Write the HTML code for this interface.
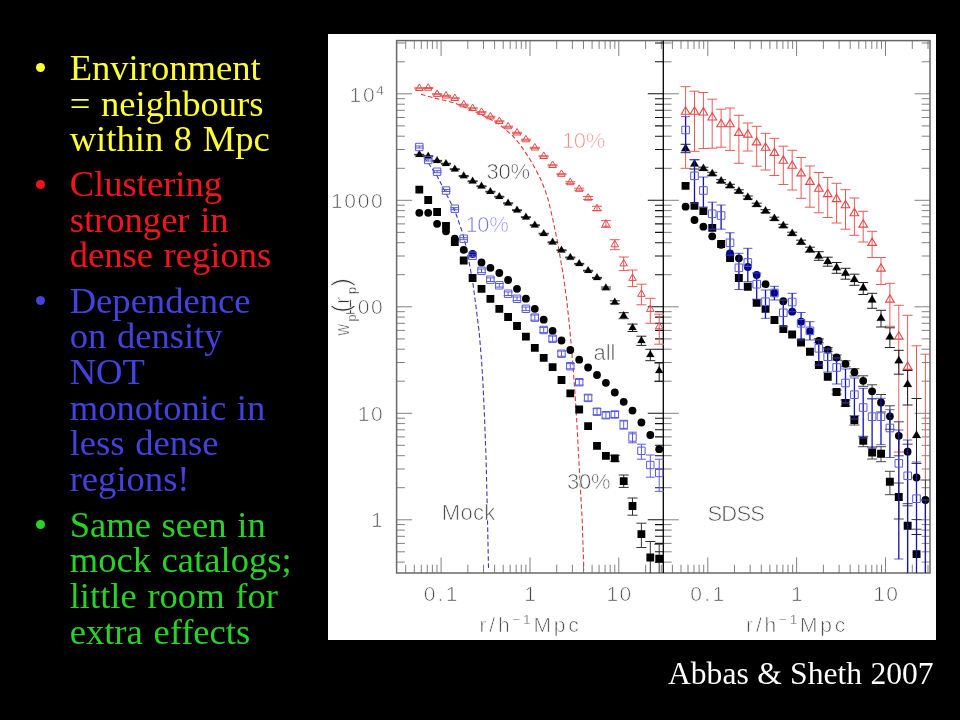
<!DOCTYPE html>
<html lang="en">
<head>
<meta charset="utf-8">
<title>Environment and clustering</title>
<style>
html,body{margin:0;padding:0;background:#000;}
body{width:960px;height:720px;position:relative;overflow:hidden;font-family:"Liberation Serif",serif;}
.ln{position:absolute;left:69.7px;word-spacing:1.5px;font-size:36.6px;line-height:1.15;white-space:nowrap;}
.bu{position:absolute;left:35.65px;width:9.5px;height:9.5px;border-radius:50%;}
#plotbg{position:absolute;left:328px;top:34px;width:608px;height:606px;background:#fff;}
svg{position:absolute;left:0;top:0;}
svg text{font-family:"Liberation Sans",sans-serif;stroke:#fff;stroke-width:0.7px;}
svg tspan.sup,svg text.sup{stroke-width:0.35px;}
#cite{position:absolute;left:668px;top:655.5px;word-spacing:0.5px;font-size:31.6px;line-height:1.15;color:#fff;white-space:nowrap;}
</style>
</head>
<body>
<div class="bu" style="top:62.8px;background:#ffff33"></div>
<div class="bu" style="top:179.6px;background:#f5141e"></div>
<div class="bu" style="top:295.9px;background:#4442dc"></div>
<div class="bu" style="top:519.6px;background:#28d228"></div>
<div class="ln" style="top:47.10px;color:#ffff33">Environment</div>
<div class="ln" style="top:82.70px;color:#ffff33">= neighbours</div>
<div class="ln" style="top:118.30px;color:#ffff33">within 8 Mpc</div>
<div class="ln" style="top:163.20px;color:#f5141e">Clustering</div>
<div class="ln" style="top:198.80px;color:#f5141e">stronger in</div>
<div class="ln" style="top:234.40px;color:#f5141e">dense regions</div>
<div class="ln" style="top:279.80px;color:#4442dc">Dependence</div>
<div class="ln" style="top:315.40px;color:#4442dc">on density</div>
<div class="ln" style="top:351.00px;color:#4442dc">NOT</div>
<div class="ln" style="top:386.60px;color:#4442dc">monotonic in</div>
<div class="ln" style="top:422.20px;color:#4442dc">less dense</div>
<div class="ln" style="top:457.80px;color:#4442dc">regions!</div>
<div class="ln" style="top:503.70px;color:#28d228">Same seen in</div>
<div class="ln" style="top:539.30px;color:#28d228">mock catalogs;</div>
<div class="ln" style="top:574.90px;color:#28d228">little room for</div>
<div class="ln" style="top:610.50px;color:#28d228">extra effects</div>
<div id="plotbg"></div>
<svg width="960" height="720" viewBox="0 0 960 720">
<path d="M405.7 40.6v8.3M405.7 573v-8.3M414.3 40.6v8.3M414.3 573v-8.3M421.3 40.6v8.3M421.3 573v-8.3M427.3 40.6v8.3M427.3 573v-8.3M432.4 40.6v8.3M432.4 573v-8.3M437 40.6v8.3M437 573v-8.3M441.1 40.6v15.5M441.1 573v-15.5M467.8 40.6v8.3M467.8 573v-8.3M483.5 40.6v8.3M483.5 573v-8.3M494.6 40.6v8.3M494.6 573v-8.3M503.2 40.6v8.3M503.2 573v-8.3M510.2 40.6v8.3M510.2 573v-8.3M516.2 40.6v8.3M516.2 573v-8.3M521.3 40.6v8.3M521.3 573v-8.3M525.9 40.6v8.3M525.9 573v-8.3M530 40.6v15.5M530 573v-15.5M556.7 40.6v8.3M556.7 573v-8.3M572.4 40.6v8.3M572.4 573v-8.3M583.5 40.6v8.3M583.5 573v-8.3M592.1 40.6v8.3M592.1 573v-8.3M599.1 40.6v8.3M599.1 573v-8.3M605.1 40.6v8.3M605.1 573v-8.3M610.2 40.6v8.3M610.2 573v-8.3M614.8 40.6v8.3M614.8 573v-8.3M618.8 40.6v15.5M618.8 573v-15.5M645.6 40.6v8.3M645.6 573v-8.3M661.3 40.6v8.3M661.3 573v-8.3M396.6 562.1h8.3M396.6 551.8h8.3M396.6 543.4h8.3M396.6 536.3h8.3M396.6 530.1h8.3M396.6 524.6h8.3M396.6 519.8h15.5M396.6 487.7h8.3M396.6 469h8.3M396.6 455.7h8.3M396.6 445.3h8.3M396.6 436.9h8.3M396.6 429.8h8.3M396.6 423.6h8.3M396.6 418.2h8.3M396.6 413.3h15.5M396.6 381.2h8.3M396.6 362.5h8.3M396.6 349.2h8.3M396.6 338.9h8.3M396.6 330.4h8.3M396.6 323.3h8.3M396.6 317.1h8.3M396.6 311.7h8.3M396.6 306.8h15.5M396.6 274.7h8.3M396.6 256h8.3M396.6 242.7h8.3M396.6 232.4h8.3M396.6 223.9h8.3M396.6 216.8h8.3M396.6 210.6h8.3M396.6 205.2h8.3M396.6 200.3h15.5M396.6 168.3h8.3M396.6 149.5h8.3M396.6 136.2h8.3M396.6 125.9h8.3M396.6 117.5h8.3M396.6 110.3h8.3M396.6 104.2h8.3M396.6 98.7h8.3M396.6 93.8h15.5M396.6 61.8h8.3M396.6 43h8.3M672.4 40.6v8.3M672.4 573v-8.3M681 40.6v8.3M681 573v-8.3M688 40.6v8.3M688 573v-8.3M694 40.6v8.3M694 573v-8.3M699.1 40.6v8.3M699.1 573v-8.3M703.7 40.6v8.3M703.7 573v-8.3M707.8 40.6v15.5M707.8 573v-15.5M734.5 40.6v8.3M734.5 573v-8.3M750.2 40.6v8.3M750.2 573v-8.3M761.3 40.6v8.3M761.3 573v-8.3M769.9 40.6v8.3M769.9 573v-8.3M776.9 40.6v8.3M776.9 573v-8.3M782.9 40.6v8.3M782.9 573v-8.3M788 40.6v8.3M788 573v-8.3M792.6 40.6v8.3M792.6 573v-8.3M796.6 40.6v15.5M796.6 573v-15.5M823.4 40.6v8.3M823.4 573v-8.3M839.1 40.6v8.3M839.1 573v-8.3M850.2 40.6v8.3M850.2 573v-8.3M858.8 40.6v8.3M858.8 573v-8.3M865.8 40.6v8.3M865.8 573v-8.3M871.8 40.6v8.3M871.8 573v-8.3M876.9 40.6v8.3M876.9 573v-8.3M881.5 40.6v8.3M881.5 573v-8.3M885.5 40.6v15.5M885.5 573v-15.5M912.3 40.6v8.3M912.3 573v-8.3M928 40.6v8.3M928 573v-8.3M663.3 562.1h8.3M930 562.1h-8.3M663.3 551.8h8.3M930 551.8h-8.3M663.3 543.4h8.3M930 543.4h-8.3M663.3 536.3h8.3M930 536.3h-8.3M663.3 530.1h8.3M930 530.1h-8.3M663.3 524.6h8.3M930 524.6h-8.3M663.3 519.8h15.5M930 519.8h-15.5M663.3 487.7h8.3M930 487.7h-8.3M663.3 469h8.3M930 469h-8.3M663.3 455.7h8.3M930 455.7h-8.3M663.3 445.3h8.3M930 445.3h-8.3M663.3 436.9h8.3M930 436.9h-8.3M663.3 429.8h8.3M930 429.8h-8.3M663.3 423.6h8.3M930 423.6h-8.3M663.3 418.2h8.3M930 418.2h-8.3M663.3 413.3h15.5M930 413.3h-15.5M663.3 381.2h8.3M930 381.2h-8.3M663.3 362.5h8.3M930 362.5h-8.3M663.3 349.2h8.3M930 349.2h-8.3M663.3 338.9h8.3M930 338.9h-8.3M663.3 330.4h8.3M930 330.4h-8.3M663.3 323.3h8.3M930 323.3h-8.3M663.3 317.1h8.3M930 317.1h-8.3M663.3 311.7h8.3M930 311.7h-8.3M663.3 306.8h15.5M930 306.8h-15.5M663.3 274.7h8.3M930 274.7h-8.3M663.3 256h8.3M930 256h-8.3M663.3 242.7h8.3M930 242.7h-8.3M663.3 232.4h8.3M930 232.4h-8.3M663.3 223.9h8.3M930 223.9h-8.3M663.3 216.8h8.3M930 216.8h-8.3M663.3 210.6h8.3M930 210.6h-8.3M663.3 205.2h8.3M930 205.2h-8.3M663.3 200.3h15.5M930 200.3h-15.5M663.3 168.3h8.3M930 168.3h-8.3M663.3 149.5h8.3M930 149.5h-8.3M663.3 136.2h8.3M930 136.2h-8.3M663.3 125.9h8.3M930 125.9h-8.3M663.3 117.5h8.3M930 117.5h-8.3M663.3 110.3h8.3M930 110.3h-8.3M663.3 104.2h8.3M930 104.2h-8.3M663.3 98.7h8.3M930 98.7h-8.3M663.3 93.8h15.5M930 93.8h-15.5M663.3 61.8h8.3M930 61.8h-8.3M663.3 43h8.3M930 43h-8.3" stroke="#6a6a6a" stroke-width="0.85" fill="none"/>
<path d="M663.3 562.1h-8.3M663.3 551.8h-8.3M663.3 543.4h-8.3M663.3 536.3h-8.3M663.3 530.1h-8.3M663.3 524.6h-8.3M663.3 519.8h-15.5M663.3 487.7h-8.3M663.3 469h-8.3M663.3 455.7h-8.3M663.3 445.3h-8.3M663.3 436.9h-8.3M663.3 429.8h-8.3M663.3 423.6h-8.3M663.3 418.2h-8.3M663.3 413.3h-15.5M663.3 381.2h-8.3M663.3 362.5h-8.3M663.3 349.2h-8.3M663.3 338.9h-8.3M663.3 330.4h-8.3M663.3 323.3h-8.3M663.3 317.1h-8.3M663.3 311.7h-8.3M663.3 306.8h-15.5M663.3 274.7h-8.3M663.3 256h-8.3M663.3 242.7h-8.3M663.3 232.4h-8.3M663.3 223.9h-8.3M663.3 216.8h-8.3M663.3 210.6h-8.3M663.3 205.2h-8.3M663.3 200.3h-15.5M663.3 168.3h-8.3M663.3 149.5h-8.3M663.3 136.2h-8.3M663.3 125.9h-8.3M663.3 117.5h-8.3M663.3 110.3h-8.3M663.3 104.2h-8.3M663.3 98.7h-8.3M663.3 93.8h-15.5M663.3 61.8h-8.3M663.3 43h-8.3" stroke="#111" stroke-width="1.1" fill="none"/>
<rect x="396.6" y="40.6" width="533.4" height="532.4" fill="none" stroke="#686868" stroke-width="1.5"/>
<path d="M663.3 40.6V573" stroke="#000" stroke-width="1.3"/>
<path d="M421 94.3L436 98.4L446 100.8L454.5 103L463 106.4L472 110.3L481 114.5L490 119L498 123.6L505 129L512.7 135.8L520 144.5L529.3 158.3L536 170L541 180L545 190L548.3 200L553 220L557.5 241.7L561 262L563.3 275L566.7 300L569.5 326L571.7 350L575 393.3L576.7 420L579.2 466.7L582.2 520L583.8 570" stroke="#de3a3a" stroke-width="1.1" fill="none" stroke-dasharray="4.6 2.6"/>
<path d="M419.3 151.7L428 162.5L437 175.8L446 193.3L455.2 211.7L462.7 233.3L466.5 248L469.3 263.3L472.7 281.7L476 306.7L479.3 333.3L481.5 360L482.7 378.3L484.3 411.7L486 456.7L487.3 510L488.5 568.3" stroke="#3a3ab0" stroke-width="1.1" fill="none" stroke-dasharray="4.6 2.6"/>
<path d="M614.8 455.3V461.3M609.8 455.3h10M609.8 461.3h10M623.7 475V487.4M618.7 475h10M618.7 487.4h10M632.5 498V515.2M627.5 498h10M627.5 515.2h10M641.4 523.2V547.5M636.4 523.2h10M636.4 547.5h10M650.3 541.5V573M645.3 541.5h10M659.2 544.2V573M654.2 544.2h10" stroke="#333" stroke-width="1" fill="none"/>
<path d="M415.4 185.8h7.8v7.8h-7.8ZM424.3 196.1h7.8v7.8h-7.8ZM433.2 208.1h7.8v7.8h-7.8ZM442.1 221.9h7.8v7.8h-7.8ZM450.9 238.1h7.8v7.8h-7.8ZM459.8 256.6h7.8v7.8h-7.8ZM468.7 274.1h7.8v7.8h-7.8ZM477.6 284.9h7.8v7.8h-7.8ZM486.5 294.9h7.8v7.8h-7.8ZM495.4 304.9h7.8v7.8h-7.8ZM504.2 313.1h7.8v7.8h-7.8ZM513.1 322.1h7.8v7.8h-7.8ZM522 332.8h7.8v7.8h-7.8ZM530.9 344h7.8v7.8h-7.8ZM539.8 353.9h7.8v7.8h-7.8ZM548.7 363.2h7.8v7.8h-7.8ZM557.6 376.1h7.8v7.8h-7.8ZM566.4 389.4h7.8v7.8h-7.8ZM575.3 405.6h7.8v7.8h-7.8ZM584.2 422.3h7.8v7.8h-7.8ZM593.1 441.9h7.8v7.8h-7.8ZM602 451.9h7.8v7.8h-7.8ZM610.9 454.4h7.8v7.8h-7.8ZM619.8 477.3h7.8v7.8h-7.8ZM628.6 502.1h7.8v7.8h-7.8ZM637.5 530.3h7.8v7.8h-7.8ZM646.4 553.6h7.8v7.8h-7.8ZM655.3 554.8h7.8v7.8h-7.8Z" fill="#000" stroke="none" stroke-width="0"/>
<circle cx="419.3" cy="212.8" r="3.9" fill="#000"/>
<circle cx="428.2" cy="212.8" r="3.9" fill="#000"/>
<circle cx="437.1" cy="223.8" r="3.9" fill="#000"/>
<circle cx="446" cy="231.3" r="3.9" fill="#000"/>
<circle cx="454.8" cy="238.7" r="3.9" fill="#000"/>
<circle cx="463.7" cy="249.8" r="3.9" fill="#000"/>
<circle cx="472.6" cy="254" r="3.9" fill="#00007a"/>
<circle cx="481.5" cy="262.5" r="3.9" fill="#000"/>
<circle cx="490.4" cy="267.8" r="3.9" fill="#000"/>
<circle cx="499.3" cy="273" r="3.9" fill="#000"/>
<circle cx="508.1" cy="280" r="3.9" fill="#000"/>
<circle cx="517" cy="288.8" r="3.9" fill="#000"/>
<circle cx="525.9" cy="298.7" r="3.9" fill="#000"/>
<circle cx="534.8" cy="308.8" r="3.9" fill="#000"/>
<circle cx="543.7" cy="319.7" r="3.9" fill="#000"/>
<circle cx="552.6" cy="330.8" r="3.9" fill="#000"/>
<circle cx="561.5" cy="340.5" r="3.9" fill="#000"/>
<circle cx="570.3" cy="350" r="3.9" fill="#000"/>
<circle cx="579.2" cy="359.7" r="3.9" fill="#000"/>
<circle cx="588.1" cy="367.5" r="3.9" fill="#000"/>
<circle cx="597" cy="375" r="3.9" fill="#000"/>
<circle cx="605.9" cy="382.8" r="3.9" fill="#000"/>
<circle cx="614.8" cy="392.5" r="3.9" fill="#000"/>
<circle cx="623.7" cy="401.8" r="3.9" fill="#000"/>
<circle cx="632.5" cy="410.6" r="3.9" fill="#000"/>
<circle cx="641.4" cy="422.5" r="3.9" fill="#000"/>
<circle cx="650.3" cy="435" r="3.9" fill="#000"/>
<circle cx="659.2" cy="449.2" r="3.9" fill="#000"/>
<path d="M419.3 154.3V155.1M414.3 154.3h10M414.3 155.1h10M428.2 155.8V156.6M423.2 155.8h10M423.2 156.6h10M437.1 160.4V161.2M432.1 160.4h10M432.1 161.2h10M446 163.3V164.1M441 163.3h10M441 164.1h10M454.8 168.8V169.6M449.8 168.8h10M449.8 169.6h10M463.7 175.6V176.4M458.7 175.6h10M458.7 176.4h10M472.6 180.9V181.7M467.6 180.9h10M467.6 181.7h10M481.5 185.9V186.7M476.5 185.9h10M476.5 186.7h10M490.4 191.3V192.1M485.4 191.3h10M485.4 192.1h10M499.3 196.3V197.1M494.3 196.3h10M494.3 197.1h10M508.1 202.9V203.7M503.1 202.9h10M503.1 203.7h10M517 209.8V210.6M512 209.8h10M512 210.6h10M525.9 216.8V217.6M520.9 216.8h10M520.9 217.6h10M534.8 224.8V225.6M529.8 224.8h10M529.8 225.6h10M543.7 233.3V234.1M538.7 233.3h10M538.7 234.1h10M552.6 241.9V242.7M547.6 241.9h10M547.6 242.7h10M561.5 249.9V250.7M556.5 249.9h10M556.5 250.7h10M570.3 257.1V257.9M565.3 257.1h10M565.3 257.9h10M579.2 263.4V264.2M574.2 263.4h10M574.2 264.2h10M588.1 270.3V271.1M583.1 270.3h10M583.1 271.1h10M597 277.4V278.2M592 277.4h10M592 278.2h10M605.9 287V289M600.9 287h10M600.9 289h10M614.8 300.8V303.8M609.8 300.8h10M609.8 303.8h10M623.7 312.7V318.7M618.7 312.7h10M618.7 318.7h10M632.5 324.1V331.5M627.5 324.1h10M627.5 331.5h10M641.4 336.2V345.4M636.4 336.2h10M636.4 345.4h10M650.3 349.3V360.7M645.3 349.3h10M645.3 360.7h10M659.2 363V381.3M654.2 363h10M654.2 381.3h10" stroke="#222" stroke-width="1" fill="none"/>
<path d="M419.3 150.2L423.3 156.9L415.3 156.9ZM428.2 151.7L432.1 158.4L424.2 158.4ZM437.1 156.3L441 163.1L433.1 163.1ZM446 159.2L449.9 165.9L442 165.9ZM454.8 164.7L458.8 171.4L450.9 171.4ZM463.7 171.5L467.7 178.2L459.8 178.2ZM472.6 176.8L476.6 183.6L468.7 183.6ZM481.5 181.8L485.5 188.6L477.5 188.6ZM490.4 187.2L494.3 193.9L486.4 193.9ZM499.3 192.2L503.2 198.9L495.3 198.9ZM508.1 198.8L512.1 205.6L504.2 205.6ZM517 205.7L521 212.4L513.1 212.4ZM525.9 212.7L529.9 219.4L522 219.4ZM534.8 220.7L538.8 227.4L530.8 227.4ZM543.7 229.2L547.7 235.9L539.7 235.9ZM552.6 237.8L556.5 244.6L548.6 244.6ZM561.5 245.8L565.4 252.6L557.5 252.6ZM570.3 253L574.3 259.8L566.4 259.8ZM579.2 259.3L583.2 266.1L575.3 266.1ZM588.1 266.2L592.1 272.9L584.2 272.9ZM597 273.3L601 280.1L593 280.1ZM605.9 283.5L609.8 290.2L601.9 290.2ZM614.8 297.8L618.7 304.6L610.8 304.6ZM623.7 311.2L627.6 317.9L619.7 317.9ZM632.5 323.3L636.5 330.1L628.6 330.1ZM641.4 336.3L645.4 343.1L637.5 343.1ZM650.3 350.2L654.3 356.9L646.3 356.9ZM659.2 366.3L663.2 373.1L655.2 373.1Z" fill="#000" stroke="#000" stroke-width="0.2" stroke-linejoin="miter"/>
<path d="M419.3 146V148M414.9 146h8.8M414.9 148h8.8M428.2 159V161M423.8 159h8.8M423.8 161h8.8M437.1 170.7V172.7M432.7 170.7h8.8M432.7 172.7h8.8M446 189.5V191.5M441.6 189.5h8.8M441.6 191.5h8.8M454.8 207.7V209.7M450.4 207.7h8.8M450.4 209.7h8.8M463.7 237.7V239.7M459.3 237.7h8.8M459.3 239.7h8.8M472.6 254.8V256.8M468.2 254.8h8.8M468.2 256.8h8.8M481.5 269V272.6M477.1 269h8.8M477.1 272.6h8.8M490.4 277.9V281.5M486 277.9h8.8M486 281.5h8.8M499.3 283.5V287.1M494.9 283.5h8.8M494.9 287.1h8.8M508.1 291.9V295.5M503.8 291.9h8.8M503.8 295.5h8.8M517 297V300.6M512.6 297h8.8M512.6 300.6h8.8M525.9 307V310.6M521.5 307h8.8M521.5 310.6h8.8M534.8 315V320.2M530.4 315h8.8M530.4 320.2h8.8M543.7 327.4V332.6M539.3 327.4h8.8M539.3 332.6h8.8M552.6 336.1V341.3M548.2 336.1h8.8M548.2 341.3h8.8M561.5 351.1V356.3M557.1 351.1h8.8M557.1 356.3h8.8M570.3 363.6V368.8M565.9 363.6h8.8M565.9 368.8h8.8M579.2 379.4V385M574.8 379.4h8.8M574.8 385h8.8M588.1 394.9V400.9M583.7 394.9h8.8M583.7 400.9h8.8M597 408.7V414.7M592.6 408.7h8.8M592.6 414.7h8.8M605.9 412.2V418.2M601.5 412.2h8.8M601.5 418.2h8.8M614.8 411.5V417.5M610.4 411.5h8.8M610.4 417.5h8.8M623.7 420.3V429.1M619.3 420.3h8.8M619.3 429.1h8.8M632.5 432.2V442.8M628.1 432.2h8.8M628.1 442.8h8.8M641.4 444.2V459.2M637 444.2h8.8M637 459.2h8.8M650.3 455V477.2M645.9 455h8.8M645.9 477.2h8.8M659.2 459.2V491.3M654.8 459.2h8.8M654.8 491.3h8.8" stroke="#5a5ade" stroke-width="1" fill="none"/>
<path d="M415.6 143.3h7.4v7.4h-7.4ZM424.5 156.3h7.4v7.4h-7.4ZM433.4 168h7.4v7.4h-7.4ZM442.3 186.8h7.4v7.4h-7.4ZM451.1 205h7.4v7.4h-7.4ZM460 235h7.4v7.4h-7.4ZM468.9 252.1h7.4v7.4h-7.4ZM477.8 267.1h7.4v7.4h-7.4ZM486.7 276h7.4v7.4h-7.4ZM495.6 281.6h7.4v7.4h-7.4ZM504.4 290h7.4v7.4h-7.4ZM513.3 295.1h7.4v7.4h-7.4ZM522.2 305.1h7.4v7.4h-7.4ZM531.1 313.9h7.4v7.4h-7.4ZM540 326.3h7.4v7.4h-7.4ZM548.9 335h7.4v7.4h-7.4ZM557.8 350h7.4v7.4h-7.4ZM566.6 362.5h7.4v7.4h-7.4ZM575.5 378.5h7.4v7.4h-7.4ZM584.4 394.2h7.4v7.4h-7.4ZM593.3 408h7.4v7.4h-7.4ZM602.2 411.5h7.4v7.4h-7.4ZM611.1 410.8h7.4v7.4h-7.4ZM620 421h7.4v7.4h-7.4ZM628.8 433.8h7.4v7.4h-7.4ZM637.7 447.1h7.4v7.4h-7.4ZM646.6 461.3h7.4v7.4h-7.4ZM655.5 469.3h7.4v7.4h-7.4Z" fill="none" stroke="#5a5ade" stroke-width="1"/>
<path d="M419.3 87.8V88.8M414.3 87.8h10M414.3 88.8h10M428.2 87.5V88.5M423.2 87.5h10M423.2 88.5h10M437.1 93.7V94.7M432.1 93.7h10M432.1 94.7h10M446 95.3V96.3M441 95.3h10M441 96.3h10M454.8 97.8V98.8M449.8 97.8h10M449.8 98.8h10M463.7 104.2V105.2M458.7 104.2h10M458.7 105.2h10M472.6 107.8V108.8M467.6 107.8h10M467.6 108.8h10M481.5 111.7V112.7M476.5 111.7h10M476.5 112.7h10M490.4 116.2V117.2M485.4 116.2h10M485.4 117.2h10M499.3 120.8V121.8M494.3 120.8h10M494.3 121.8h10M508.1 126.2V127.2M503.1 126.2h10M503.1 127.2h10M517 132.3V133.3M512 132.3h10M512 133.3h10M525.9 139.2V140.2M520.9 139.2h10M520.9 140.2h10M534.8 147.3V148.3M529.8 147.3h10M529.8 148.3h10M543.7 155.8V156.8M538.7 155.8h10M538.7 156.8h10M552.6 164.8V165.8M547.6 164.8h10M547.6 165.8h10M561.5 173.7V174.7M556.5 173.7h10M556.5 174.7h10M570.3 181.7V183.3M565.3 181.7h10M565.3 183.3h10M579.2 188.2V190.2M574.2 188.2h10M574.2 190.2h10M588.1 196.5V199.5M583.1 196.5h10M583.1 199.5h10M597 206.3V210.7M592 206.3h10M592 210.7h10M605.9 220.6V227.4M600.9 220.6h10M600.9 227.4h10M614.8 239.7V249.7M609.8 239.7h10M609.8 249.7h10M623.7 257V270.6M618.7 257h10M618.7 270.6h10M632.5 270V286.6M627.5 270h10M627.5 286.6h10M641.4 284.2V304.8M636.4 284.2h10M636.4 304.8h10M650.3 298.3V323.3M645.3 298.3h10M645.3 323.3h10M659.2 314.2V344.2M654.2 314.2h10M654.2 344.2h10" stroke="#ea5a5a" stroke-width="1" fill="none"/>
<path d="M419.3 84L423.1 90.5L415.5 90.5ZM428.2 83.7L432 90.2L424.4 90.2ZM437.1 89.9L440.9 96.4L433.3 96.4ZM446 91.5L449.7 98L442.2 98ZM454.8 94L458.6 100.5L451.1 100.5ZM463.7 100.4L467.5 106.9L459.9 106.9ZM472.6 104L476.4 110.5L468.8 110.5ZM481.5 107.9L485.3 114.4L477.7 114.4ZM490.4 112.4L494.2 118.9L486.6 118.9ZM499.3 117L503 123.5L495.5 123.5ZM508.1 122.4L511.9 128.8L504.4 128.8ZM517 128.5L520.8 135L513.3 135ZM525.9 135.4L529.7 141.8L522.1 141.8ZM534.8 143.5L538.6 150L531 150ZM543.7 152L547.5 158.5L539.9 158.5ZM552.6 161L556.4 167.5L548.8 167.5ZM561.5 169.9L565.2 176.3L557.7 176.3ZM570.3 178.2L574.1 184.7L566.6 184.7ZM579.2 184.9L583 191.3L575.4 191.3ZM588.1 193.7L591.9 200.2L584.3 200.2ZM597 204.2L600.8 210.7L593.2 210.7ZM605.9 219.7L609.7 226.2L602.1 226.2ZM614.8 240.4L618.6 246.8L611 246.8ZM623.7 259.5L627.4 265.9L619.9 265.9ZM632.5 274L636.3 280.4L628.8 280.4ZM641.4 289.9L645.2 296.3L637.6 296.3ZM650.3 305L654.1 311.4L646.5 311.4ZM659.2 322.4L663 328.8L655.4 328.8Z" fill="none" stroke="#e64848" stroke-width="1" stroke-linejoin="miter"/>
<path d="M685.6 86.7V168.3M694.5 91.2V151.3M703.4 92.5V148.5M712.2 99.2V148.2M721.1 109.2V147.2M730 108V150.4M738.9 115.3V163.3M747.8 123V151M756.7 126.3V166.2M765.5 133.3V170M774.4 138.3V175.5M783.3 146.2V184.5M792.2 150.3V190M801.1 157.5V198.3M809.9 166V207.2M818.8 172.5V212.8M827.7 177.5V217.5M836.6 183.3V223M845.5 189.7V229.2M854.4 198V235.3M863.2 211.3V242M872.1 231.3V257.5M881 257.5V284.5M889.9 283.3V326.3M898.8 305.3V452M907.6 315.3V573M916.5 345.8V573M925.4 354.2V573M680.6 86.7h10M680.6 168.3h10M689.5 91.2h10M689.5 151.3h10M698.4 92.5h10M698.4 148.5h10M707.2 99.2h10M707.2 148.2h10M716.1 109.2h10M716.1 147.2h10M725 108h10M725 150.4h10M733.9 115.3h10M733.9 163.3h10M742.8 123h10M742.8 151h10M751.7 126.3h10M751.7 166.2h10M760.5 133.3h10M760.5 170h10M769.4 138.3h10M769.4 175.5h10M778.3 146.2h10M778.3 184.5h10M787.2 150.3h10M787.2 190h10M796.1 157.5h10M796.1 198.3h10M804.9 166h10M804.9 207.2h10M813.8 172.5h10M813.8 212.8h10M822.7 177.5h10M822.7 217.5h10M831.6 183.3h10M831.6 223h10M840.5 189.7h10M840.5 229.2h10M849.4 198h10M849.4 235.3h10M858.2 211.3h10M858.2 242h10M867.1 231.3h10M867.1 257.5h10M876 257.5h10M876 284.5h10M884.9 283.3h10M884.9 326.3h10M893.8 305.3h10M893.8 452h10M902.6 315.3h10M911.5 345.8h10M920.4 354.2h10" stroke="#ea5a5a" stroke-width="1" fill="none"/>
<path d="M836.6 390V394M831.6 390h10M831.6 394h10M845.5 400V406M840.5 400h10M840.5 406h10M854.4 415.8V425M849.4 415.8h10M849.4 425h10M863.2 436.3V446.7M858.2 436.3h10M858.2 446.7h10M872.1 447V459M867.1 447h10M867.1 459h10M881 446.7V461.7M876 446.7h10M876 461.7h10M889.9 471.3V494.7M884.9 471.3h10M884.9 494.7h10M898.8 483V519M893.8 483h10M893.8 519h10M907.6 505.8V573M902.6 505.8h10M916.5 529.2V573M911.5 529.2h10" stroke="#444" stroke-width="1" fill="none"/>
<path d="M818.8 338.8V342.8M813.8 338.8h10M813.8 342.8h10M827.7 347.7V351.7M822.7 347.7h10M822.7 351.7h10M836.6 355V360M831.6 355h10M831.6 360h10M845.5 360.8V366.8M840.5 360.8h10M840.5 366.8h10M854.4 368.7V376M849.4 368.7h10M849.4 376h10M863.2 375.8V386.3M858.2 375.8h10M858.2 386.3h10M872.1 384.8V398.8M867.1 384.8h10M867.1 398.8h10M881 394.5V412M876 394.5h10M876 412h10M889.9 405.8V429.3M884.9 405.8h10M884.9 429.3h10M898.8 421.8V455.8M893.8 421.8h10M893.8 455.8h10M907.6 444.2V503.7M902.6 444.2h10M902.6 503.7h10M916.5 463.5V519.5M911.5 463.5h10M911.5 519.5h10M925.4 480V573M920.4 480h10" stroke="#444" stroke-width="1" fill="none"/>
<path d="M685.6 144.3V152.7M680.6 144.3h10M680.6 152.7h10M694.5 159.7V169M689.5 159.7h10M689.5 169h10M703.4 167.2V170.2M698.4 167.2h10M698.4 170.2h10M712.2 172.3V175.3M707.2 172.3h10M707.2 175.3h10M721.1 179.7V182.7M716.1 179.7h10M716.1 182.7h10M730 184.3V187.3M725 184.3h10M725 187.3h10M738.9 189.8V192.8M733.9 189.8h10M733.9 192.8h10M747.8 196V199M742.8 196h10M742.8 199h10M756.7 203.2V206.2M751.7 203.2h10M751.7 206.2h10M765.5 209.7V212.7M760.5 209.7h10M760.5 212.7h10M774.4 217.2V220.2M769.4 217.2h10M769.4 220.2h10M783.3 224.3V227.3M778.3 224.3h10M778.3 227.3h10M792.2 232.2V235.2M787.2 232.2h10M787.2 235.2h10M801.1 240.2V244.2M796.1 240.2h10M796.1 244.2h10M809.9 247.2V252.2M804.9 247.2h10M804.9 252.2h10M818.8 251.7V260.3M813.8 251.7h10M813.8 260.3h10M827.7 257.2V266.2M822.7 257.2h10M822.7 266.2h10M836.6 262.5V273.3M831.6 262.5h10M831.6 273.3h10M845.5 268.3V279.2M840.5 268.3h10M840.5 279.2h10M854.4 274.2V285.3M849.4 274.2h10M849.4 285.3h10M863.2 282.5V294.5M858.2 282.5h10M858.2 294.5h10M872.1 293.3V308.3M867.1 293.3h10M867.1 308.3h10M881 310.3V327M876 310.3h10M876 327h10M889.9 327.8V347.5M884.9 327.8h10M884.9 347.5h10M898.8 350.3V374.2M893.8 350.3h10M893.8 374.2h10M907.6 370.5V405M902.6 370.5h10M902.6 405h10M916.5 398.5V534.5M911.5 398.5h10M911.5 534.5h10" stroke="#222" stroke-width="1" fill="none"/>
<path d="M681.6 181.9h7.9v7.9h-7.9ZM690.5 201.9h7.9v7.9h-7.9ZM699.4 207.2h7.9v7.9h-7.9ZM708.3 223.9h7.9v7.9h-7.9ZM717.2 240.1h7.9v7.9h-7.9ZM726.1 254.1h7.9v7.9h-7.9ZM734.9 274.1h7.9v7.9h-7.9ZM743.8 282.8h7.9v7.9h-7.9ZM752.7 298.9h7.9v7.9h-7.9ZM761.6 304.9h7.9v7.9h-7.9ZM770.5 316.1h7.9v7.9h-7.9ZM779.4 325.2h7.9v7.9h-7.9ZM788.2 330.6h7.9v7.9h-7.9ZM797.1 338.6h7.9v7.9h-7.9ZM806 347.8h7.9v7.9h-7.9ZM814.9 361.1h7.9v7.9h-7.9ZM823.8 372.8h7.9v7.9h-7.9ZM832.6 388.1h7.9v7.9h-7.9ZM841.5 399.1h7.9v7.9h-7.9ZM850.4 416.1h7.9v7.9h-7.9ZM859.3 436.9h7.9v7.9h-7.9ZM868.2 448.6h7.9v7.9h-7.9ZM877.1 449.8h7.9v7.9h-7.9ZM885.9 477.8h7.9v7.9h-7.9ZM894.8 493.1h7.9v7.9h-7.9ZM903.7 521.8h7.9v7.9h-7.9ZM912.6 550.2h7.9v7.9h-7.9Z" fill="#000" stroke="none" stroke-width="0"/>
<circle cx="685.6" cy="206.7" r="3.9" fill="#000"/>
<circle cx="694.5" cy="220" r="3.9" fill="#000"/>
<circle cx="703.4" cy="226.7" r="3.9" fill="#000"/>
<circle cx="712.2" cy="236.3" r="3.9" fill="#000"/>
<circle cx="721.1" cy="244.8" r="3.9" fill="#000"/>
<circle cx="730" cy="253.3" r="3.9" fill="#00007a"/>
<circle cx="738.9" cy="258.3" r="3.9" fill="#000"/>
<circle cx="747.8" cy="267" r="3.9" fill="#00007a"/>
<circle cx="756.7" cy="275" r="3.9" fill="#00007a"/>
<circle cx="765.5" cy="284.2" r="3.9" fill="#000"/>
<circle cx="774.4" cy="293" r="3.9" fill="#00007a"/>
<circle cx="783.3" cy="301.2" r="3.9" fill="#000"/>
<circle cx="792.2" cy="311.7" r="3.9" fill="#00007a"/>
<circle cx="801.1" cy="321.7" r="3.9" fill="#00007a"/>
<circle cx="809.9" cy="331.3" r="3.9" fill="#00007a"/>
<circle cx="818.8" cy="340.8" r="3.9" fill="#000"/>
<circle cx="827.7" cy="349.7" r="3.9" fill="#000"/>
<circle cx="836.6" cy="357.5" r="3.9" fill="#000"/>
<circle cx="845.5" cy="363.8" r="3.9" fill="#000"/>
<circle cx="854.4" cy="372.2" r="3.9" fill="#000"/>
<circle cx="863.2" cy="380.8" r="3.9" fill="#000"/>
<circle cx="872.1" cy="391.3" r="3.9" fill="#000"/>
<circle cx="881" cy="402.5" r="3.9" fill="#000"/>
<circle cx="889.9" cy="416.3" r="3.9" fill="#000"/>
<circle cx="898.8" cy="435.8" r="3.9" fill="#000"/>
<circle cx="907.6" cy="451.7" r="3.9" fill="#000"/>
<circle cx="916.5" cy="477.5" r="3.9" fill="#000"/>
<circle cx="925.4" cy="500" r="3.9" fill="#000"/>
<path d="M685.6 143.6L689.9 150.9L681.3 150.9ZM694.5 159.3L698.8 166.6L690.2 166.6ZM703.4 163.8L707.7 171.1L699.1 171.1ZM712.2 168.9L716.6 176.2L707.9 176.2ZM721.1 176.3L725.4 183.6L716.8 183.6ZM730 180.9L734.3 188.2L725.7 188.2ZM738.9 186.4L743.2 193.8L734.6 193.8ZM747.8 192.6L752.1 199.9L743.5 199.9ZM756.7 199.8L761 207.1L752.3 207.1ZM765.5 206.3L769.9 213.6L761.2 213.6ZM774.4 213.8L778.7 221.1L770.1 221.1ZM783.3 220.9L787.6 228.2L779 228.2ZM792.2 228.8L796.5 236.1L787.9 236.1ZM801.1 237.3L805.4 244.6L796.8 244.6ZM809.9 244.8L814.3 252.1L805.6 252.1ZM818.8 251.3L823.1 258.6L814.5 258.6ZM827.7 256.8L832 264.1L823.4 264.1ZM836.6 262.9L840.9 270.2L832.3 270.2ZM845.5 268.4L849.8 275.8L841.2 275.8ZM854.4 274.8L858.7 282.1L850 282.1ZM863.2 283.1L867.6 290.4L858.9 290.4ZM872.1 295.1L876.4 302.4L867.8 302.4ZM881 313.4L885.3 320.8L876.7 320.8ZM889.9 332.1L894.2 339.4L885.6 339.4ZM898.8 355.9L903.1 363.2L894.5 363.2ZM907.6 379.6L912 386.9L903.3 386.9ZM916.5 430.6L920.8 437.9L912.2 437.9Z" fill="#000" stroke="#000" stroke-width="0.2" stroke-linejoin="miter"/>
<path d="M681 116.7h9.2M681 152h9.2M689.9 159.7h9.2M689.9 203h9.2M698.8 177h9.2M698.8 207h9.2M707.6 202.2h9.2M707.6 229.2h9.2M716.5 205h9.2M716.5 229.2h9.2M725.4 232.8h9.2M725.4 255h9.2M734.3 253.3h9.2M734.3 289.5h9.2M743.2 248.3h9.2M743.2 281.7h9.2M752.1 273h9.2M752.1 299.2h9.2M760.9 290h9.2M760.9 318.3h9.2M769.8 286.3h9.2M769.8 300h9.2M778.7 300h9.2M778.7 326.7h9.2M787.6 293.3h9.2M787.6 311.7h9.2M796.5 312.5h9.2M796.5 340h9.2M805.3 321.7h9.2M805.3 340h9.2M814.2 340h9.2M814.2 365h9.2M823.1 349h9.2M823.1 372h9.2M832 358h9.2M832 384h9.2M840.9 369h9.2M840.9 403h9.2M849.8 378h9.2M849.8 419h9.2M858.6 388.3h9.2M858.6 438h9.2M867.5 398.7h9.2M867.5 448h9.2M876.4 398.3h9.2M876.4 444.7h9.2M885.3 409.7h9.2M885.3 457.5h9.2M894.2 430h9.2M894.2 559h9.2M903 440h9.2M911.9 462h9.2M920.8 500h9.2" stroke="#4a4ad0" stroke-width="0.9" fill="none"/>
<path d="M685.6 116.7V152M694.5 159.7V203M703.4 177V207M712.2 202.2V229.2M721.1 205V229.2M730 232.8V255M738.9 253.3V289.5M747.8 248.3V281.7M756.7 273V299.2M765.5 290V318.3M774.4 286.3V300M783.3 300V326.7M792.2 293.3V311.7M801.1 312.5V340M809.9 321.7V340M818.8 340V365M827.7 349V372M836.6 358V384M845.5 369V403M854.4 378V419M863.2 388.3V438M872.1 398.7V448M881 398.3V444.7M889.9 409.7V457.5M898.8 430V559M907.6 440V573M916.5 462V573M925.4 500V573" stroke="#1515b4" stroke-width="1.3" fill="none"/>
<path d="M681.8 126.2h7.6v7.6h-7.6ZM690.7 172h7.6v7.6h-7.6ZM699.6 186.7h7.6v7.6h-7.6ZM708.4 210h7.6v7.6h-7.6ZM717.3 211.7h7.6v7.6h-7.6ZM726.2 239h7.6v7.6h-7.6ZM735.1 264h7.6v7.6h-7.6ZM744 258.7h7.6v7.6h-7.6ZM752.9 280.4h7.6v7.6h-7.6ZM761.7 297.9h7.6v7.6h-7.6ZM770.6 289.2h7.6v7.6h-7.6ZM779.5 309h7.6v7.6h-7.6ZM788.4 298.2h7.6v7.6h-7.6ZM797.3 319.5h7.6v7.6h-7.6ZM806.1 327h7.6v7.6h-7.6ZM815 344.5h7.6v7.6h-7.6ZM823.9 352.9h7.6v7.6h-7.6ZM832.8 363.7h7.6v7.6h-7.6ZM841.7 379.2h7.6v7.6h-7.6ZM850.6 390.9h7.6v7.6h-7.6ZM859.4 403.7h7.6v7.6h-7.6ZM868.3 412.9h7.6v7.6h-7.6ZM877.2 412.9h7.6v7.6h-7.6ZM886.1 424.2h7.6v7.6h-7.6ZM895 459.5h7.6v7.6h-7.6ZM903.9 472h7.6v7.6h-7.6ZM912.7 494.9h7.6v7.6h-7.6Z" fill="none" stroke="#5a5ade" stroke-width="1"/>
<path d="M685.6 106.8L689.9 114.2L681.3 114.2ZM694.5 106.8L698.8 114.2L690.2 114.2ZM703.4 107.6L707.7 115L699.1 115ZM712.2 112.6L716.6 120L707.9 120ZM721.1 119.3L725.4 126.7L716.8 126.7ZM730 119.3L734.3 126.7L725.7 126.7ZM738.9 128.1L743.2 135.4L734.6 135.4ZM747.8 129.8L752.1 137.1L743.5 137.1ZM756.7 137.6L761 144.9L752.3 144.9ZM765.5 142.9L769.9 150.2L761.2 150.2ZM774.4 148.1L778.7 155.4L770.1 155.4ZM783.3 155.9L787.6 163.2L779 163.2ZM792.2 160.9L796.5 168.2L787.9 168.2ZM801.1 168.6L805.4 175.9L796.8 175.9ZM809.9 177.1L814.3 184.4L805.6 184.4ZM818.8 183.9L823.1 191.2L814.5 191.2ZM827.7 189.3L832 196.6L823.4 196.6ZM836.6 194.3L840.9 201.6L832.3 201.6ZM845.5 200.4L849.8 207.8L841.2 207.8ZM854.4 208.4L858.7 215.8L850 215.8ZM863.2 219.8L867.6 227.1L858.9 227.1ZM872.1 238.1L876.4 245.4L867.8 245.4ZM881 263.8L885.3 271.1L876.7 271.1ZM889.9 294.8L894.2 302.1L885.6 302.1ZM898.8 331.8L903.1 339.1L894.5 339.1ZM907.6 362.1L912 369.4L903.3 369.4Z" fill="none" stroke="#e64848" stroke-width="1.1" stroke-linejoin="miter"/>
<text x="562" y="147.7" fill="#ee8d8d" font-size="22" text-anchor="start" letter-spacing="-0.4">10%</text>
<text x="486.5" y="179.4" fill="#3c3c3c" font-size="22" text-anchor="start" letter-spacing="-0.2">30%</text>
<text x="465.5" y="232.4" fill="#7474e2" font-size="22" text-anchor="start" letter-spacing="-0.4">10%</text>
<text x="593.5" y="360.2" fill="#484848" font-size="22" text-anchor="start">all</text>
<text x="567" y="488.5" fill="#484848" font-size="22" text-anchor="start" letter-spacing="-0.2">30%</text>
<text x="441.8" y="520.2" fill="#484848" font-size="22" text-anchor="start" letter-spacing="0.3">Mock</text>
<text x="707.5" y="520.8" fill="#484848" font-size="22" text-anchor="start" letter-spacing="-0.8">SDSS</text>
<text x="441.7" y="601.3" fill="#484848" font-size="21" text-anchor="middle" letter-spacing="2.3">0.1</text>
<text x="530.8" y="601.3" fill="#484848" font-size="21" text-anchor="middle" letter-spacing="1.3">1</text>
<text x="619.6" y="601.3" fill="#484848" font-size="21" text-anchor="middle" letter-spacing="1.3">10</text>
<text x="530.5" y="632" fill="#484848" font-size="21" text-anchor="middle" letter-spacing="2.8">r/h<tspan class="sup" font-size="13.5" dy="-8">−1</tspan><tspan dy="8">Mpc</tspan></text>
<text x="708.4" y="601.3" fill="#484848" font-size="21" text-anchor="middle" letter-spacing="2.3">0.1</text>
<text x="797.4" y="601.3" fill="#484848" font-size="21" text-anchor="middle" letter-spacing="1.3">1</text>
<text x="886.3" y="601.3" fill="#484848" font-size="21" text-anchor="middle" letter-spacing="1.3">10</text>
<text x="797.1" y="632" fill="#484848" font-size="21" text-anchor="middle" letter-spacing="2.8">r/h<tspan class="sup" font-size="13.5" dy="-8">−1</tspan><tspan dy="8">Mpc</tspan></text>
<text x="384.5" y="207.9" fill="#484848" font-size="21" text-anchor="end" letter-spacing="1.7">1000</text>
<text x="384.5" y="420.9" fill="#484848" font-size="21" text-anchor="end" letter-spacing="1.7">10</text>
<text x="384.5" y="527.4" fill="#484848" font-size="21" text-anchor="end" letter-spacing="1.7">1</text>
<text x="349.6" y="102" fill="#484848" font-size="21" letter-spacing="1.7">10<tspan class="sup" font-size="13.5" dy="-7">4</tspan></text>
<text x="384.5" y="314.4" fill="#484848" font-size="21" text-anchor="end" letter-spacing="1.7">100</text>
<g transform="translate(349,336) rotate(-90)" fill="#2e2e2e" font-size="21"><text x="0.5" y="0" textLength="11.5" lengthAdjust="spacingAndGlyphs">w</text><text class="sup" x="14.6" y="7" font-size="12.5">p</text><text x="23.2" y="0.6" font-size="25">(</text><text x="32.3" y="0">r</text><text class="sup" x="42" y="7" font-size="12.5">p</text><text x="49.6" y="0.6" font-size="25">)</text></g>
</svg>
<div id="cite">Abbas &amp; Sheth 2007</div>
</body>
</html>
